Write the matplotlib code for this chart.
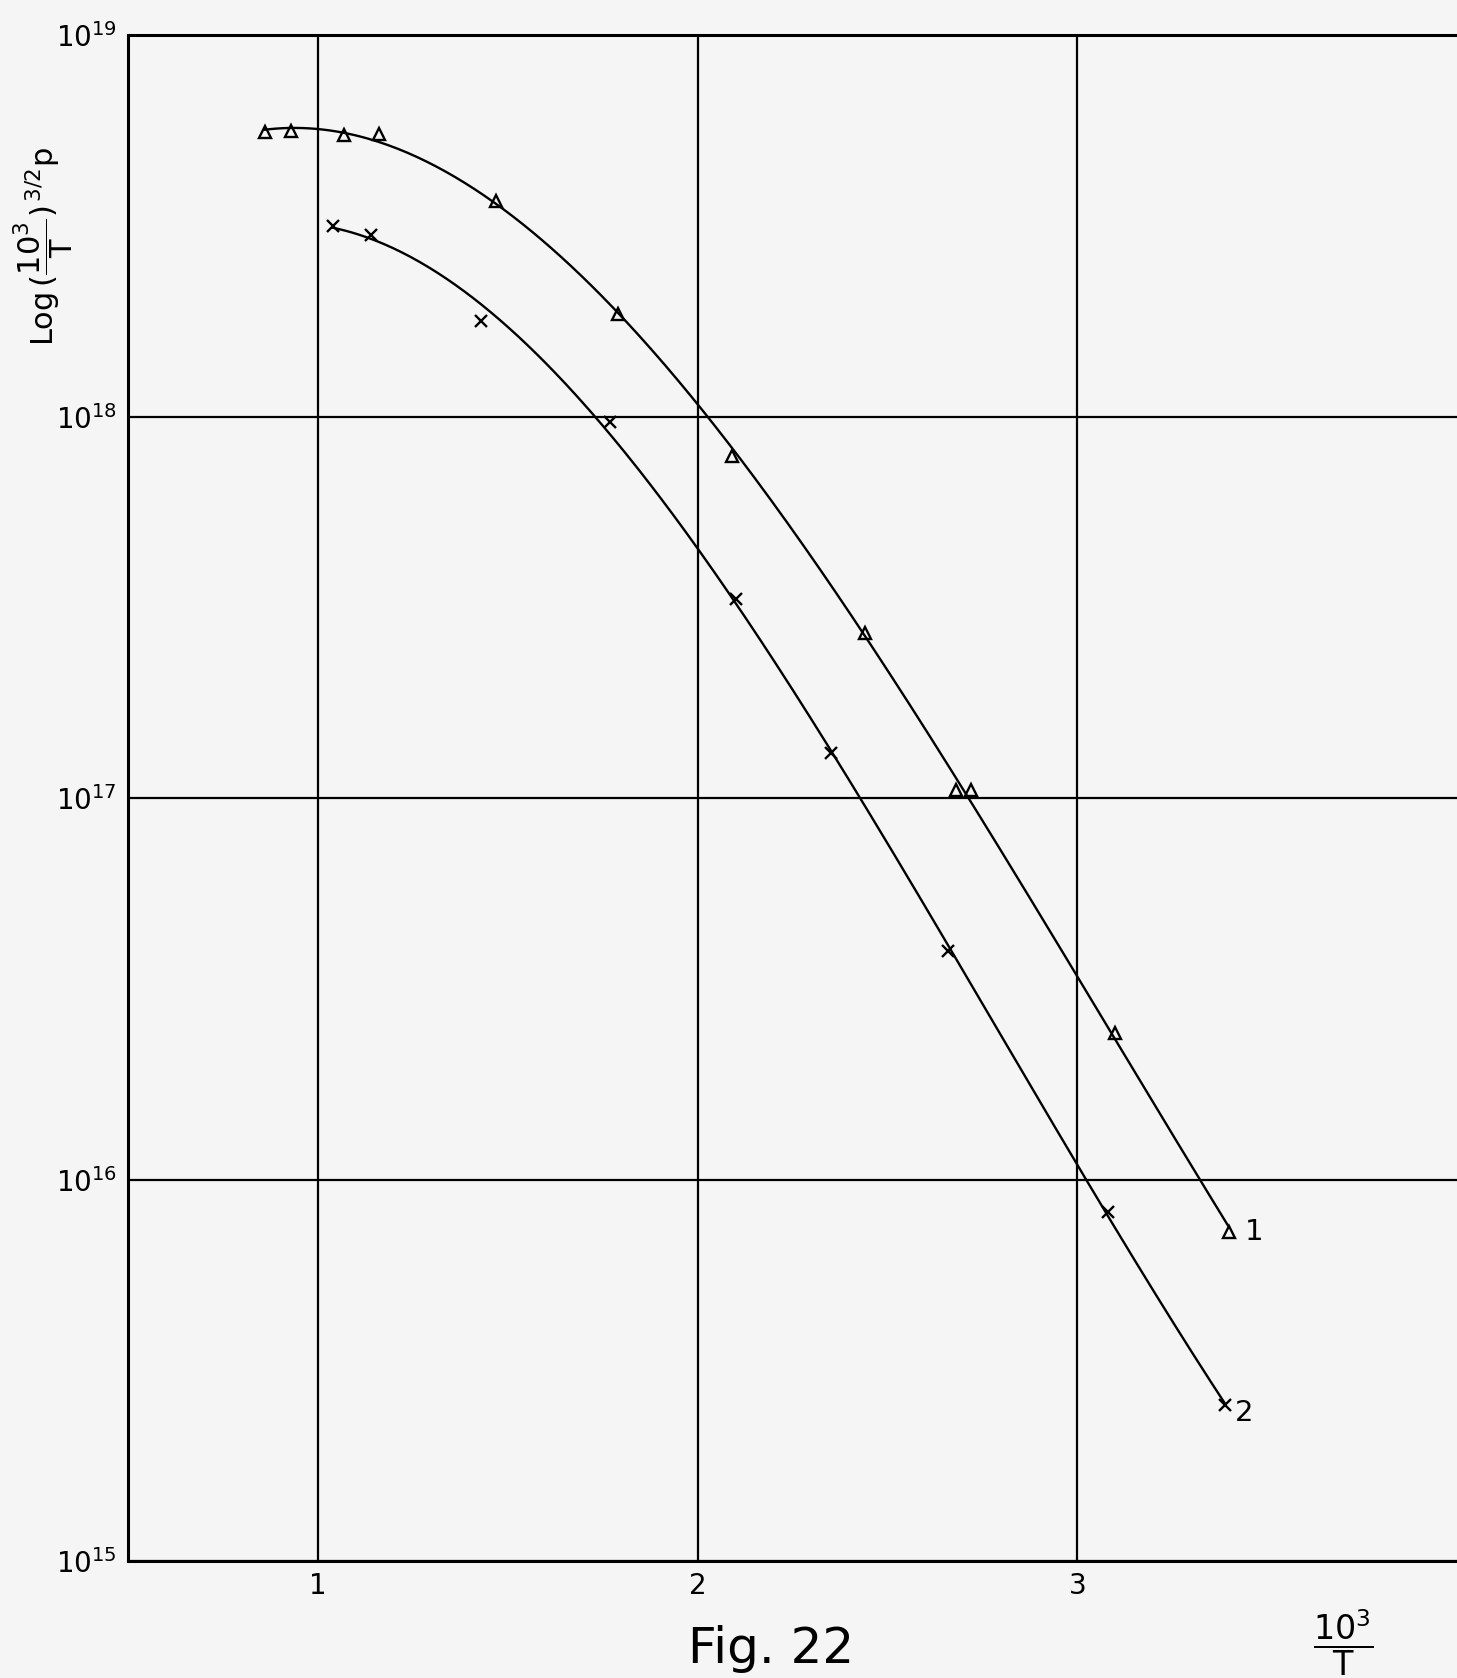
import matplotlib
matplotlib.use('Agg')
import matplotlib.pyplot as plt
import numpy as np

plt.rcParams['font.family'] = ['DejaVu Sans']
plt.rcParams['mathtext.fontset'] = 'dejavusans'

# curve 1 (triangles)
x1 = [0.86, 0.93, 1.07, 1.16, 1.47, 1.79, 2.09, 2.44, 2.68, 2.72, 3.10, 3.40]
y1 = [5.58e18, 5.62e18, 5.48e18, 5.52e18, 3.67e18, 1.86e18, 7.9e17, 2.70e17,
      1.05e17, 1.05e17, 2.42e16, 7.3e15]

# curve 2 (crosses)
x2 = [1.04, 1.14, 1.43, 1.77, 2.10, 2.35, 2.66, 3.08, 3.39]
y2 = [3.16e18, 2.99e18, 1.78e18, 9.7e17, 3.32e17, 1.31e17, 3.98e16, 8.2e15,
      2.57e15]

x_ticks = [1, 2, 3]
y_ticks = [1e15, 1e16, 1e17, 1e18, 1e19]
y_tick_labels = [r'$10^{15}$', r'$10^{16}$', r'$10^{17}$', r'$10^{18}$', r'$10^{19}$']

bg = '#f5f5f5'
fig = plt.figure(figsize=(14.57, 16.78), dpi=100, facecolor=bg)
ax = fig.add_axes([0.0879, 0.0697, 0.9121, 0.9094], facecolor=bg)

ax.set_yscale('log')
ax.set_xlim(0.5, 4.0)
ax.set_ylim(1e15, 1e19)


def smooth(x, y, deg=3):
    # least squares fit in log space, drawn as the smooth hand curve
    c = np.polyfit(x, np.log10(y), deg)
    xs = np.linspace(min(x), max(x), 300)
    return xs, 10 ** np.polyval(c, xs)


xs, ys = smooth(x1, y1)
ax.plot(xs, ys, color='black', lw=1.7)
ax.plot(x1, y1, linestyle='none', marker='^', ms=8, mfc='none', mec='black', mew=1.7)

xs, ys = smooth(x2, y2)
ax.plot(xs, ys, color='black', lw=1.7)
ax.plot(x2, y2, linestyle='none', marker='x', ms=8, mec='black', mew=1.7)

ax.text(x1[-1] + 0.04, y1[-1], '1', fontsize=21, va='center', ha='left')
ax.text(x2[-1] + 0.025, y2[-1] * 0.95, '2', fontsize=21, va='center', ha='left')

ax.set_xticks(x_ticks)
ax.set_xticklabels([str(t) for t in x_ticks], fontsize=20)
ax.set_yticks(y_ticks)
ax.set_yticklabels(y_tick_labels, fontsize=20)
ax.yaxis.set_minor_locator(matplotlib.ticker.NullLocator())
ax.tick_params(length=0, pad=8)
ax.grid(True, color='black', lw=1.6)

for s in ['left', 'bottom', 'top']:
    ax.spines[s].set_linewidth(2.2)
ax.spines['right'].set_visible(False)

fig.text(0.030, 0.853, r'Log$\,(\dfrac{10^3}{\mathrm{T}})^{\,3/2}$p', rotation=90,
         fontsize=22, ha='center', va='center')
fig.text(0.922, 0.021, r'$\dfrac{10^3}{\mathrm{T}}$', fontsize=24, ha='center', va='center')
fig.text(0.529, 0.003, 'Fig. 22', fontsize=36, ha='center', va='bottom')

fig.savefig('out.png', dpi=100, facecolor=bg)
